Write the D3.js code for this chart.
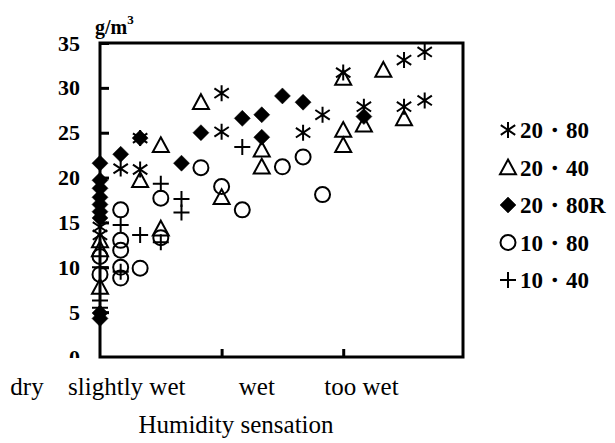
<!DOCTYPE html>
<html>
<head>
<meta charset="utf-8">
<script src="https://cdn.jsdelivr.net/npm/d3@7"></script>
<style>
  html, body { margin: 0; padding: 0; background: #fff; }
  svg { display: block; }
  text { font-family: "Liberation Serif", "DejaVu Serif", serif; }
</style>
</head>
<body>
<svg id="chart" width="615" height="443"></svg>
<script>
// Condition names (temperature ・ relative humidity)
const categories = ["20・80", "20・40", "20・80R", "10・80", "10・40"];

// Humidity sensation (x) and absolute humidity in clothing, g/m3 (y), per condition
const sensation2080 = [0, 0, 0.17, 0.33, 0.33, 1, 1, 1.67, 1.83, 2, 2.17, 2.5, 2.5, 2.67, 2.67];
const humidity2080  = [14.5, 13.6, 21.0, 24.4, 20.9, 29.4, 25.1, 25.0, 27.0, 31.7, 27.9, 33.1, 27.9, 34.0, 28.6];

const sensation2040 = [0, 0, 0, 0.33, 0.5, 0.5, 0.83, 1, 1.33, 1.33, 2, 2, 2, 2.17, 2.33, 2.5];
const humidity2040  = [13.0, 12.0, 7.8, 19.7, 23.6, 14.3, 28.4, 17.8, 23.1, 21.2, 31.1, 25.3, 23.6, 25.9, 32.0, 26.6];

const sensation2080R = [0, 0, 0, 0, 0, 0, 0, 0, 0, 0.17, 0.33, 0.67, 0.83, 1.17, 1.33, 1.33, 1.5, 1.67, 2.17];
const humidity2080R  = [21.6, 19.7, 18.8, 17.8, 17.0, 16.2, 15.5, 4.9, 4.3, 22.6, 24.4, 21.6, 25.0, 26.6, 27.0, 24.5, 29.1, 28.4, 26.8];

const sensation1080 = [0, 0, 0.17, 0.17, 0.17, 0.17, 0.17, 0.33, 0.5, 0.5, 0.83, 1, 1.17, 1.5, 1.67, 1.83];
const humidity1080  = [11.2, 9.2, 16.4, 13.0, 11.9, 10.0, 8.8, 9.9, 17.7, 13.3, 21.1, 19.0, 16.4, 21.2, 22.3, 18.1];

const sensation1040 = [0, 0, 0, 0.17, 0.17, 0.33, 0.5, 0.5, 0.67, 0.67, 1.17];
const humidity1040  = [6.3, 5.5, 10.0, 14.7, 9.5, 13.6, 19.3, 12.8, 17.6, 16.1, 23.4];

// Axis tick values and category labels along the sensation axis
const yTicks = [0, 5, 10, 15, 20, 25, 30, 35];
const xTicks = [1, 2];
const sensationLabels = ["dry", "slightly wet", "wet", "too wet"];
const sensationLabelPos = [-0.6, 0.22, 1.29, 2.15];

const svg = d3.select("#chart");
const plotLeft = 100, plotRight = 463, plotTop = 43, plotBottom = 357;

const x = d3.scaleLinear().domain([0, 2.985]).range([plotLeft, plotRight]);
const y = d3.scaleLinear().domain([0, 35]).range([plotBottom, plotTop]);

// Marker shapes
const R = 8;
const shapes = {
  asterisk: () => `M0,${-R}V${R}M${-R * 0.9},${-R * 0.6}L${R * 0.9},${R * 0.6}M${-R * 0.9},${R * 0.6}L${R * 0.9},${-R * 0.6}`,
  triangle: () => `M0,${-R}L${R},${R * 0.85}H${-R}Z`,
  diamond: () => `M0,${-R}L${R},0L0,${R}L${-R},0Z`,
  circle: () => `M${R - 0.5},0A${R - 0.5},${R - 0.5} 0 1,1 ${-(R - 0.5)},0A${R - 0.5},${R - 0.5} 0 1,1 ${R - 0.5},0Z`,
  plus: () => `M0,${-R}V${R}M${-R},0H${R}`
};

const series = [
  { name: categories[0], xs: sensation2080,  ys: humidity2080,  shape: "asterisk", fill: "none" },
  { name: categories[1], xs: sensation2040,  ys: humidity2040,  shape: "triangle", fill: "none" },
  { name: categories[2], xs: sensation2080R, ys: humidity2080R, shape: "diamond",  fill: "#000" },
  { name: categories[3], xs: sensation1080,  ys: humidity1080,  shape: "circle",   fill: "none" },
  { name: categories[4], xs: sensation1040,  ys: humidity1040,  shape: "plus",     fill: "none" }
];

// Y axis labels, ticks pointing inward
svg.append("clipPath").attr("id", "yclip")
  .append("rect").attr("x", -100).attr("y", 0).attr("width", 200).attr("height", 358);

const yAxis = svg.append("g")
  .attr("transform", `translate(${plotLeft},0)`)
  .attr("clip-path", "url(#yclip)")
  .call(d3.axisLeft(y).tickValues(yTicks).tickSize(-9).tickPadding(20));
yAxis.select(".domain").remove();
yAxis.selectAll(".tick line").attr("stroke", "#000").attr("stroke-width", 3);
yAxis.selectAll(".tick text")
  .attr("fill", "#000")
  .attr("font-family", null)
  .style("font-weight", "bold")
  .style("font-size", "22px");

// X axis ticks, pointing inward, no numeric labels
const xAxis = svg.append("g")
  .attr("transform", `translate(0,${plotBottom})`)
  .call(d3.axisBottom(x).tickValues(xTicks).tickSize(-8).tickFormat(""));
xAxis.select(".domain").remove();
xAxis.selectAll(".tick line").attr("stroke", "#000").attr("stroke-width", 3);

// Plot frame
svg.append("rect")
  .attr("x", plotLeft).attr("y", plotTop)
  .attr("width", plotRight - plotLeft).attr("height", plotBottom - plotTop)
  .attr("fill", "none").attr("stroke", "#000").attr("stroke-width", 3);

// Unit label
const unit = svg.append("text")
  .attr("x", 95).attr("y", 34)
  .style("font-weight", "bold")
  .style("font-size", "20px")
  .text("g/m");
unit.append("tspan").attr("dy", -10).style("font-size", "13px").text("3");

// Sensation category labels
svg.append("g").selectAll("text")
  .data(sensationLabels)
  .join("text")
  .attr("x", (d, i) => x(sensationLabelPos[i]))
  .attr("y", 395)
  .attr("text-anchor", "middle")
  .style("font-size", "25px")
  .text(d => d);

svg.append("text")
  .attr("x", 236).attr("y", 433)
  .attr("text-anchor", "middle")
  .style("font-size", "25px")
  .text("Humidity sensation");

// Data markers
const marks = svg.append("g");
series.forEach(s => {
  marks.append("g").selectAll("path")
    .data(s.xs.map((v, i) => [v, s.ys[i]]))
    .join("path")
    .attr("transform", d => `translate(${x(d[0])},${y(d[1])})`)
    .attr("d", shapes[s.shape]())
    .attr("fill", s.fill)
    .attr("stroke", "#000")
    .attr("stroke-width", s.shape === "diamond" ? 0.5 : 2);
});

// Legend
const legend = svg.append("g");
series.forEach((s, i) => {
  const cy = 130 + i * 37.5;
  legend.append("path")
    .attr("transform", `translate(508,${cy})`)
    .attr("d", shapes[s.shape]())
    .attr("fill", s.fill)
    .attr("stroke", "#000")
    .attr("stroke-width", s.shape === "diamond" ? 0.5 : 2);
  legend.append("text")
    .attr("x", 520).attr("y", cy + 8)
    .style("font-weight", "bold")
    .style("font-size", "23px")
    .text(s.name);
});
</script>
</body>
</html>
